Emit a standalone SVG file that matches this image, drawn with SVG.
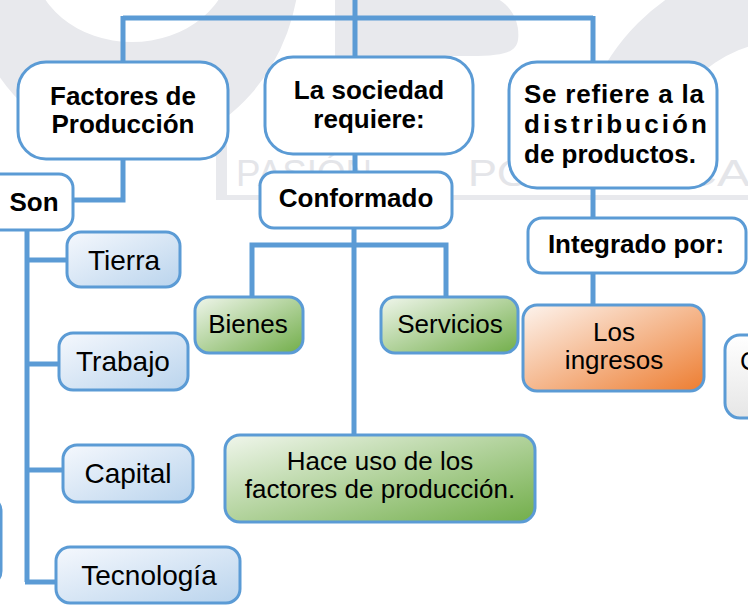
<svg xmlns="http://www.w3.org/2000/svg" width="748" height="605" viewBox="0 0 748 605">
  <defs>
    <style>
      .node { stroke: #5b9bd5; stroke-width: 3; }
      .w { fill: #ffffff; }
      .b { fill: url(#gBlue); }
      .g { fill: url(#gGreen); }
      .o { fill: url(#gOrange); }
      .gr { fill: url(#gGray); }
      .tb { font-family: "Liberation Sans", Arial, sans-serif; font-weight: bold; font-size: 26px; fill: #000; text-anchor: middle; }
      .tr { font-family: "Liberation Sans", Arial, sans-serif; font-size: 26px; fill: #000; text-anchor: middle; }
      .tl { font-family: "Liberation Sans", Arial, sans-serif; font-size: 28px; fill: #000; text-anchor: middle; }
      .conn { fill: none; stroke: #5b9bd5; stroke-width: 5; }
      .wm { fill: #e8e9ed; }
      .wmt { font-family: "Liberation Sans", Arial, sans-serif; font-size: 36px; fill: #e4e5e9; }
    </style>
    <linearGradient id="gBlue" x1="0" y1="0" x2="1" y2="1">
      <stop offset="0" stop-color="#f5f8fd"/>
      <stop offset="1" stop-color="#bad4ed"/>
    </linearGradient>
    <linearGradient id="gGreen" x1="0" y1="0" x2="1" y2="1">
      <stop offset="0" stop-color="#f0f6ec"/>
      <stop offset="1" stop-color="#72ae4a"/>
    </linearGradient>
    <linearGradient id="gOrange" x1="0" y1="0" x2="1" y2="1">
      <stop offset="0" stop-color="#fdf4ee"/>
      <stop offset="1" stop-color="#ed7d31"/>
    </linearGradient>
    <linearGradient id="gGray" x1="0" y1="0" x2="0" y2="1">
      <stop offset="0" stop-color="#ffffff"/>
      <stop offset="1" stop-color="#e6e6e6"/>
    </linearGradient>
    <clipPath id="wmClip">
      <rect x="0" y="0" width="748" height="132"/>
    </clipPath>
  </defs>

  <rect x="0" y="0" width="748" height="605" fill="#ffffff"/>

  <g id="watermark">
    <g clip-path="url(#wmClip)">
      <path class="wm" fill-rule="evenodd" d="M-36,-40 A168,190 0 0 0 300,-40 A168,190 0 0 0 -36,-40 Z M33,-40 A99,82 0 0 0 231,-40 A99,82 0 0 0 33,-40 Z"/>
      <path class="wm" d="M335,-5 H482 C505,-5 521,18 518,40 C516,52 505,56 470,56 H335 Z"/>
      <path class="wm" fill-rule="evenodd" d="M575,175 A215,215 0 0 1 1005,175 A215,215 0 0 1 575,175 Z M655,175 A135,135 0 0 1 925,175 A135,135 0 0 1 655,175 Z"/>
    </g>
    <rect class="wm" x="216" y="127" width="11" height="73"/>
    <rect class="wm" x="216" y="195" width="532" height="5"/>
    <text class="wmt" x="236" y="186" textLength="136" lengthAdjust="spacingAndGlyphs">PASIÓN</text>
    <text class="wmt" x="468" y="186" textLength="94" lengthAdjust="spacingAndGlyphs">POR</text>
    <text class="wmt" x="576" y="186" textLength="210" lengthAdjust="spacingAndGlyphs">EDUCAR</text>
  </g>

  <g id="connectors">
    <path class="conn" d="M123,18 H593"/>
    <path class="conn" d="M123,16 V62"/>
    <path class="conn" d="M355,0 V57"/>
    <path class="conn" d="M593,16 V62"/>
    <path class="conn" d="M123,159 V200 H73"/>
    <path class="conn" d="M27,230 V582"/>
    <path class="conn" d="M25,260 H67"/>
    <path class="conn" d="M25,364 H59"/>
    <path class="conn" d="M25,470 H63"/>
    <path class="conn" d="M25,582 H56"/>
    <path class="conn" d="M355,154 V172"/>
    <path class="conn" d="M354,228 V435"/>
    <path class="conn" d="M252,297 V245 H446 V297"/>
    <path class="conn" d="M593,188 V218"/>
    <path class="conn" d="M593,273 V305"/>
  </g>

  <g id="n-factores">
    <rect class="node w" x="18" y="62" width="210" height="97" rx="28"/>
    <text class="tb" x="123" y="105">Factores de</text>
    <text class="tb" x="123" y="133">Producción</text>
  </g>
  <g id="n-sociedad">
    <rect class="node w" x="265" y="57" width="208" height="97" rx="28"/>
    <text class="tb" x="369" y="99">La sociedad</text>
    <text class="tb" x="369" y="128">requiere:</text>
  </g>
  <g id="n-refiere">
    <rect class="node w" x="509" y="62" width="208" height="126" rx="28"/>
    <text class="tb" x="524" y="103" style="text-anchor:start" textLength="180" lengthAdjust="spacing">Se refiere a la</text>
    <text class="tb" x="524" y="133" style="text-anchor:start" textLength="183" lengthAdjust="spacing">distribución</text>
    <text class="tb" x="524" y="163" style="text-anchor:start">de productos.</text>
  </g>
  <g id="n-son">
    <rect class="node w" x="-20" y="174" width="93" height="56" rx="14"/>
    <text class="tb" x="34" y="211">Son</text>
  </g>
  <g id="n-conformado">
    <rect class="node w" x="260" y="172" width="192" height="56" rx="14"/>
    <text class="tb" x="356" y="207">Conformado</text>
  </g>
  <g id="n-integrado">
    <rect class="node w" x="528" y="218" width="218" height="55" rx="14"/>
    <text class="tb" x="636" y="253">Integrado por:</text>
  </g>
  <g id="n-tierra">
    <rect class="node b" x="67" y="232" width="113" height="55" rx="14"/>
    <text class="tl" x="124" y="270">Tierra</text>
  </g>
  <g id="n-trabajo">
    <rect class="node b" x="59" y="333" width="129" height="57" rx="14"/>
    <text class="tl" x="123" y="371">Trabajo</text>
  </g>
  <g id="n-capital">
    <rect class="node b" x="63" y="445" width="130" height="57" rx="14"/>
    <text class="tl" x="128" y="483">Capital</text>
  </g>
  <g id="n-tecnologia">
    <rect class="node b" x="56" y="547" width="184" height="56" rx="14"/>
    <text class="tl" x="149" y="585">Tecnología</text>
  </g>
  <g id="n-bienes">
    <rect class="node g" x="195" y="297" width="108" height="56" rx="14"/>
    <text class="tr" x="248" y="333">Bienes</text>
  </g>
  <g id="n-servicios">
    <rect class="node g" x="381" y="297" width="137" height="56" rx="14"/>
    <text class="tr" x="450" y="333">Servicios</text>
  </g>
  <g id="n-ingresos">
    <rect class="node o" x="523" y="305" width="181" height="86" rx="14"/>
    <text class="tr" x="614" y="341">Los</text>
    <text class="tr" x="614" y="369">ingresos</text>
  </g>
  <g id="n-hace-uso">
    <rect class="node g" x="225" y="435" width="310" height="87" rx="15"/>
    <text class="tr" x="380" y="470">Hace uso de los</text>
    <text class="tr" x="380" y="498">factores de producción.</text>
  </g>
  <g id="n-partial-right">
    <rect class="node gr" x="725" y="335" width="80" height="83" rx="15"/>
    <text class="tr" x="740" y="370" style="text-anchor:start">C</text>
  </g>
  <g id="n-partial-left">
    <rect class="node b" x="-100" y="497" width="101" height="88" rx="14"/>
  </g>
</svg>
